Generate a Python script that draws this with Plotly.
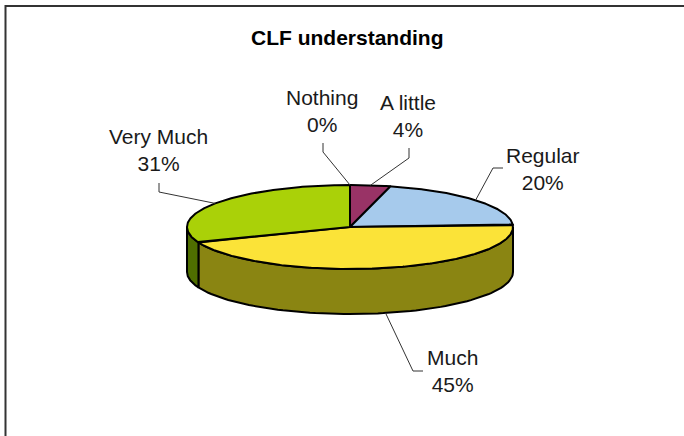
import numpy as np
import plotly.graph_objects as go

# ---- data -------------------------------------------------------------
categories = ["Nothing", "A little", "Regular", "Much", "Very Much"]
values = [0, 4, 20, 45, 31]
top_colors = ["#8c8c8c", "#993366", "#A6CAEC", "#FBE338", "#AAD108"]
side_colors = ["#5a5a5a", "#6b2447", "#7490a8", "#8A8512", "#4F6E00"]
title = "CLF understanding"

# ---- geometry of the tilted pie (axis units = pixels) ----------------
CX, CY, RX, RY, DEPTH = 350, 227, 163, 42, 45
OUTLINE = dict(color="#000000", width=2)
FONT = "Liberation Sans, Arial, sans-serif"

# label block centres and the elbow of each leader line
label_layout = {
    "Nothing":   dict(pos=(322, 110.5), elbow=[(323, 143), (323, 152)]),
    "A little":  dict(pos=(408, 115.5), elbow=[(409, 148), (409, 158)]),
    "Regular":   dict(pos=(543, 168.5), elbow=[(503, 168), (493, 168)]),
    "Much":      dict(pos=(452, 370.5), elbow=[(423, 371), (413, 371)]),
    "Very Much": dict(pos=(158, 149.5), elbow=[(159, 183), (159, 192)]),
}


def ell(theta_deg, drop=0.0):
    """Point on the pie rim; angle clockwise from 12 o'clock."""
    t = np.radians(theta_deg)
    return CX + RX * np.sin(t), CY - RY * np.cos(t) + drop


total = float(sum(values))
starts, ends = [], []
acc = 0.0
for v in values:
    starts.append(acc / total * 360.0)
    acc += v
    ends.append(acc / total * 360.0)

fig = go.Figure()

# outer walls: only the front half (90..270 deg) is visible
for cat, a, b, col in zip(categories, starts, ends, side_colors):
    lo, hi = max(a, 90.0), min(b, 270.0)
    if hi <= lo:
        continue
    th = np.linspace(lo, hi, 80)
    xt, yt = ell(th)
    xb, yb = ell(th[::-1], DEPTH)
    fig.add_trace(go.Scatter(
        x=np.concatenate([xt, xb, xt[:1]]),
        y=np.concatenate([yt, yb, yt[:1]]),
        mode="lines", fill="toself", fillcolor=col, line=OUTLINE,
        hoverinfo="skip", showlegend=False))

# top faces
for cat, a, b, col in zip(categories, starts, ends, top_colors):
    if b - a <= 0:
        continue
    th = np.linspace(a, b, max(int((b - a) * 2), 4))
    xs, ys = ell(th)
    fig.add_trace(go.Scatter(
        x=np.concatenate([[CX], xs, [CX]]),
        y=np.concatenate([[CY], ys, [CY]]),
        mode="lines", fill="toself", fillcolor=col, line=OUTLINE,
        hoverinfo="skip", showlegend=False))

# leader lines and data labels
for cat, v, a, b in zip(categories, values, starts, ends):
    mid = (a + b) / 2.0
    front = np.cos(np.radians(mid)) < 0
    px, py = ell(mid, DEPTH if front else 0.0)
    spec = label_layout[cat]
    pts = spec["elbow"] + [(px, py)]
    fig.add_trace(go.Scatter(
        x=[p[0] for p in pts], y=[p[1] for p in pts],
        mode="lines", line=dict(color="#333333", width=1),
        hoverinfo="skip", showlegend=False))
    fig.add_annotation(
        x=spec["pos"][0], y=spec["pos"][1], xref="x", yref="y",
        text=f"{cat}<br>{v / total * 100:.0f}%", showarrow=False,
        xanchor="center", yanchor="middle", align="center",
        font=dict(family=FONT, size=21, color="#1a1a1a"))

fig.add_annotation(
    x=347, y=37, xref="x", yref="y", text=f"<b>{title}</b>",
    showarrow=False, xanchor="center", yanchor="middle",
    font=dict(family=FONT, size=21, color="#000000"))

# chart frame
fig.add_shape(type="rect", xref="x", yref="y", x0=5.5, y0=6, x1=720, y1=470,
              line=dict(color="#333333", width=2), fillcolor="rgba(0,0,0,0)")

fig.update_layout(
    width=684, height=436,
    margin=dict(l=0, r=0, t=0, b=0),
    paper_bgcolor="#ffffff", plot_bgcolor="#ffffff",
    xaxis=dict(range=[0, 684], visible=False, fixedrange=True),
    yaxis=dict(range=[436, 0], visible=False, fixedrange=True),
)

fig.write_html("out.html")
